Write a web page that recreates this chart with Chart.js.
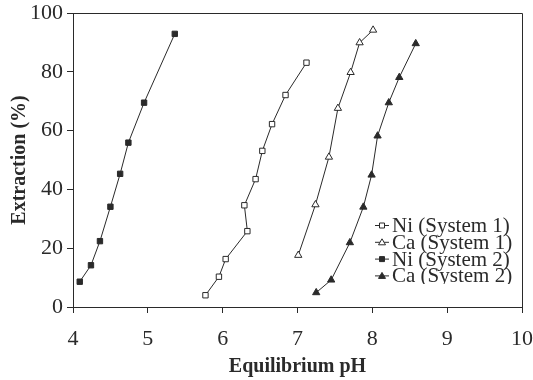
<!DOCTYPE html>
<html lang="en">
<head>
    <meta charset="UTF-8">
    <title>Extraction vs Equilibrium pH</title>
    <script src="https://cdn.jsdelivr.net/npm/chart.js"></script>
    <style>
        html, body { margin: 0; padding: 0; background: #fff; }
        #wrap { width: 533px; height: 380px; }
    </style>
</head>
<body>
    <div id="wrap"><canvas id="extChart"></canvas></div>

    <script>
        // values
        const ni1pH = [5.77, 5.95, 6.04, 6.33, 6.29, 6.44, 6.53, 6.66, 6.84, 7.12];
        const ni1Ext = [4.0, 10.3, 16.3, 25.8, 34.6, 43.5, 53.1, 62.2, 72.1, 83.1];

        const ca1pH = [7.01, 7.24, 7.42, 7.54, 7.71, 7.83, 8.01];
        const ca1Ext = [17.6, 34.8, 51.0, 67.6, 79.8, 89.9, 94.2];

        const ni2pH = [4.09, 4.24, 4.36, 4.50, 4.63, 4.74, 4.95, 5.36];
        const ni2Ext = [8.6, 14.2, 22.4, 34.1, 45.3, 55.9, 69.5, 92.9];

        const ca2pH = [7.25, 7.45, 7.70, 7.88, 7.99, 8.07, 8.22, 8.36, 8.58];
        const ca2Ext = [4.9, 9.2, 21.9, 34.0, 44.9, 58.2, 69.5, 78.1, 89.6];

        const xTicks = [4, 5, 6, 7, 8, 9, 10];
        const yTicks = [0, 20, 40, 60, 80, 100];

        const ink = '#2a2a2a';
        const serif = "'Liberation Serif', 'Times New Roman', serif";

        function pts(xs, ys) {
            return xs.map((x, i) => ({ x: x, y: ys[i] }));
        }

        function series(label, xs, ys, style, filled) {
            return {
                label: label,
                data: pts(xs, ys),
                showLine: true,
                borderColor: ink,
                borderWidth: 1,
                pointStyle: style,
                pointRadius: style === 'rect' ? 3.8 : 4.2,
                pointBorderWidth: 1,
                pointBackgroundColor: filled ? ink : '#fff',
                pointBorderColor: ink,
                tension: 0
            };
        }

        // box round the plot + legend sitting inside the bottom right corner
        const framePlugin = {
            id: 'frame',
            afterDraw(chart) {
                const { ctx, chartArea: a } = chart;
                ctx.save();
                ctx.strokeStyle = ink;
                ctx.lineWidth = 1;
                ctx.beginPath();
                ctx.moveTo(a.left, a.top + 0.5);
                ctx.lineTo(a.right + 0.5, a.top + 0.5);
                ctx.lineTo(a.right + 0.5, a.bottom);
                ctx.stroke();

                // legend, clipped like the original scan
                ctx.beginPath();
                ctx.rect(360, 210, 160, 74);
                ctx.clip();
                ctx.font = '21px ' + serif;
                ctx.fillStyle = ink;
                ctx.textBaseline = 'middle';
                chart.data.datasets.forEach((ds, i) => {
                    const y = 225.5 + i * 16.8;
                    ctx.beginPath();
                    ctx.moveTo(375, y);
                    ctx.lineTo(389, y);
                    ctx.stroke();
                    ctx.fillStyle = ds.pointBackgroundColor;
                    ctx.beginPath();
                    if (ds.pointStyle === 'rect') {
                        ctx.rect(379.5, y - 2.5, 5, 5);
                    } else {
                        ctx.moveTo(382, y - 3.5);
                        ctx.lineTo(385.5, y + 2.5);
                        ctx.lineTo(378.5, y + 2.5);
                        ctx.closePath();
                    }
                    ctx.fill();
                    ctx.stroke();
                    ctx.fillStyle = ink;
                    ctx.fillText(ds.label, 392, y + 1);
                });
                ctx.restore();
            }
        };

        const ctx = document.getElementById('extChart').getContext('2d');
        new Chart(ctx, {
            type: 'scatter',
            data: {
                datasets: [
                    series('Ni (System 1)', ni1pH, ni1Ext, 'rect', false),
                    series('Ca (System 1)', ca1pH, ca1Ext, 'triangle', false),
                    series('Ni (System 2)', ni2pH, ni2Ext, 'rect', true),
                    series('Ca (System 2)', ca2pH, ca2Ext, 'triangle', true)
                ]
            },
            options: {
                responsive: true,
                maintainAspectRatio: false,
                animation: false,
                layout: { padding: { top: 13, right: 11, left: 0, bottom: 0 } },
                plugins: {
                    legend: { display: false },
                    tooltip: { enabled: false }
                },
                scales: {
                    x: {
                        type: 'linear',
                        min: 4,
                        max: 10,
                        afterBuildTicks: s => { s.ticks = xTicks.map(v => ({ value: v })); },
                        afterFit: s => { s.height = 73; s.paddingLeft = 0; s.paddingRight = 0; },
                        grid: { drawOnChartArea: false, color: ink, tickLength: 6 },
                        border: { color: ink, width: 1 },
                        ticks: { color: ink, font: { family: serif, size: 22 }, padding: 13 },
                        title: {
                            display: true,
                            text: 'Equilibrium pH',
                            color: ink,
                            font: { family: serif, size: 20, weight: 'bold' },
                            padding: { top: 0, bottom: 1 }
                        }
                    },
                    y: {
                        min: 0,
                        max: 100,
                        afterBuildTicks: s => { s.ticks = yTicks.map(v => ({ value: v })); },
                        afterFit: s => { s.width = 73; s.paddingTop = 0; s.paddingBottom = 0; },
                        grid: { drawOnChartArea: false, color: ink, tickLength: 6 },
                        border: { color: ink, width: 1 },
                        ticks: { color: ink, font: { family: serif, size: 22 }, padding: 4 },
                        title: {
                            display: true,
                            text: 'Extraction (%)',
                            color: ink,
                            font: { family: serif, size: 20, weight: 'bold' },
                            padding: { top: 8, bottom: 2 }
                        }
                    }
                }
            },
            plugins: [framePlugin]
        });
    </script>
</body>
</html>
